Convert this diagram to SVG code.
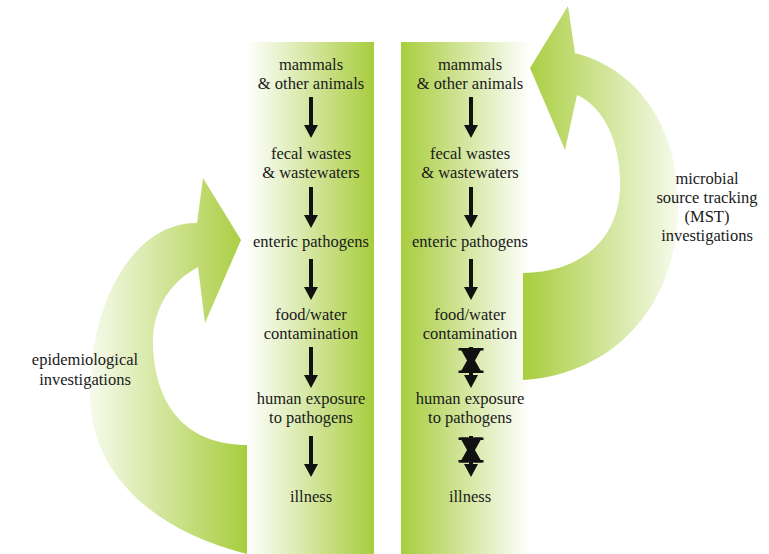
<svg xmlns="http://www.w3.org/2000/svg" width="769" height="554" viewBox="0 0 769 554">
  <defs>
    <linearGradient id="colLeft" gradientUnits="userSpaceOnUse" x1="247" y1="0" x2="374" y2="0">
      <stop offset="0" stop-color="#ffffff"/>
      <stop offset="1" stop-color="#a8cd3e"/>
    </linearGradient>
    <linearGradient id="colRight" gradientUnits="userSpaceOnUse" x1="401" y1="0" x2="530" y2="0">
      <stop offset="0" stop-color="#a8cd3e"/>
      <stop offset="1" stop-color="#ffffff"/>
    </linearGradient>
    <linearGradient id="loopLeft" gradientUnits="userSpaceOnUse" x1="88" y1="0" x2="247" y2="0">
      <stop offset="0" stop-color="#f7fbee"/>
      <stop offset="1" stop-color="#a8cd3e"/>
    </linearGradient>
    <linearGradient id="loopRight" gradientUnits="userSpaceOnUse" x1="523" y1="0" x2="680" y2="0">
      <stop offset="0" stop-color="#a8cd3e"/>
      <stop offset="1" stop-color="#f7fbee"/>
    </linearGradient>
    <!-- downward arrow: 4px shaft with a 14px wide head, drawn from its top at (0,0) -->
    <path id="down" d="M-2 0 H2 V28 H7 L0 41 L-7 28 H-2 Z" fill="#111"/>
    <!-- heavy cross marking a broken link, centred at (0,0) -->
    <g id="block" fill="#111">
      <path d="M-11 -12.5 H-3 L11 12.5 H3 Z"/>
      <path d="M3 -12.5 H11 L-3 12.5 H-11 Z"/>
      <rect x="-12.5" y="-12.5" width="10.5" height="2.5"/>
      <rect x="2" y="-12.5" width="10.5" height="2.5"/>
      <rect x="-12.5" y="10" width="10.5" height="2.5"/>
      <rect x="2" y="10" width="10.5" height="2.5"/>
    </g>
  </defs>
  <style>
    .lbl text { font-family: 'Liberation Serif', serif; font-size: 16.5px; fill: #1a1a1a; text-anchor: middle; }
  </style>

  <!-- two vertical bands -->
  <rect id="band-left" x="247" y="42" width="127" height="512" fill="url(#colLeft)"/>
  <rect id="band-right" x="401" y="42" width="129" height="512" fill="url(#colRight)"/>

  <!-- curved feedback arrows -->
  <path id="loop-epidemiological" fill="url(#loopLeft)"
        d="M247 554 C150 530 88 470 90 390 C92 290 140 222 197 223 L203 178 L241 240 L205 323 L198 267 C165 285 152 315 153 345 C155 410 190 445 247 445 Z"/>
  <path id="loop-mst" fill="url(#loopRight)"
        d="M523 380 L523 273 C590 272 622 230 620 180 C619 135 600 105 577 95 L565 150 L530 68 L568 6 L575 53 C640 70 680 130 678 210 C676 310 610 375 523 380 Z"/>

  <g class="lbl">
    <!-- left chain -->
    <g id="l-animals"><text x="311" y="70">mammals</text><text x="311" y="89">&amp; other animals</text></g>
    <g id="l-wastes"><text x="311" y="159">fecal wastes</text><text x="311" y="178">&amp; wastewaters</text></g>
    <g id="l-pathogens"><text x="311" y="247">enteric pathogens</text></g>
    <g id="l-contamination"><text x="311" y="320">food/water</text><text x="311" y="339">contamination</text></g>
    <g id="l-exposure"><text x="311" y="404">human exposure</text><text x="311" y="423">to pathogens</text></g>
    <g id="l-illness"><text x="311" y="502">illness</text></g>

    <!-- right chain -->
    <g id="r-animals"><text x="470" y="70">mammals</text><text x="470" y="89">&amp; other animals</text></g>
    <g id="r-wastes"><text x="470" y="159">fecal wastes</text><text x="470" y="178">&amp; wastewaters</text></g>
    <g id="r-pathogens"><text x="470" y="247">enteric pathogens</text></g>
    <g id="r-contamination"><text x="470" y="320">food/water</text><text x="470" y="339">contamination</text></g>
    <g id="r-exposure"><text x="470" y="404">human exposure</text><text x="470" y="423">to pathogens</text></g>
    <g id="r-illness"><text x="470" y="502">illness</text></g>

    <!-- loop labels -->
    <g id="label-epidemiological"><text x="85" y="365">epidemiological</text><text x="85" y="385">investigations</text></g>
    <g id="label-mst"><text x="707" y="184">microbial</text><text x="707" y="203">source tracking</text><text x="707" y="222">(MST)</text><text x="707" y="241">investigations</text></g>
  </g>

  <!-- connectors -->
  <g id="connectors">
    <use href="#down" x="311" y="97"/>
    <use href="#down" x="311" y="187"/>
    <use href="#down" x="311" y="259"/>
    <use href="#down" x="311" y="347"/>
    <use href="#down" x="311" y="436"/>

    <use href="#down" x="471" y="97"/>
    <use href="#down" x="471" y="187"/>
    <use href="#down" x="471" y="259"/>
    <use href="#down" x="471" y="347"/>
    <use href="#down" x="471" y="436"/>

    <!-- blocked links -->
    <use href="#block" x="471" y="360.5"/>
    <use href="#block" x="471" y="450"/>
  </g>
</svg>
